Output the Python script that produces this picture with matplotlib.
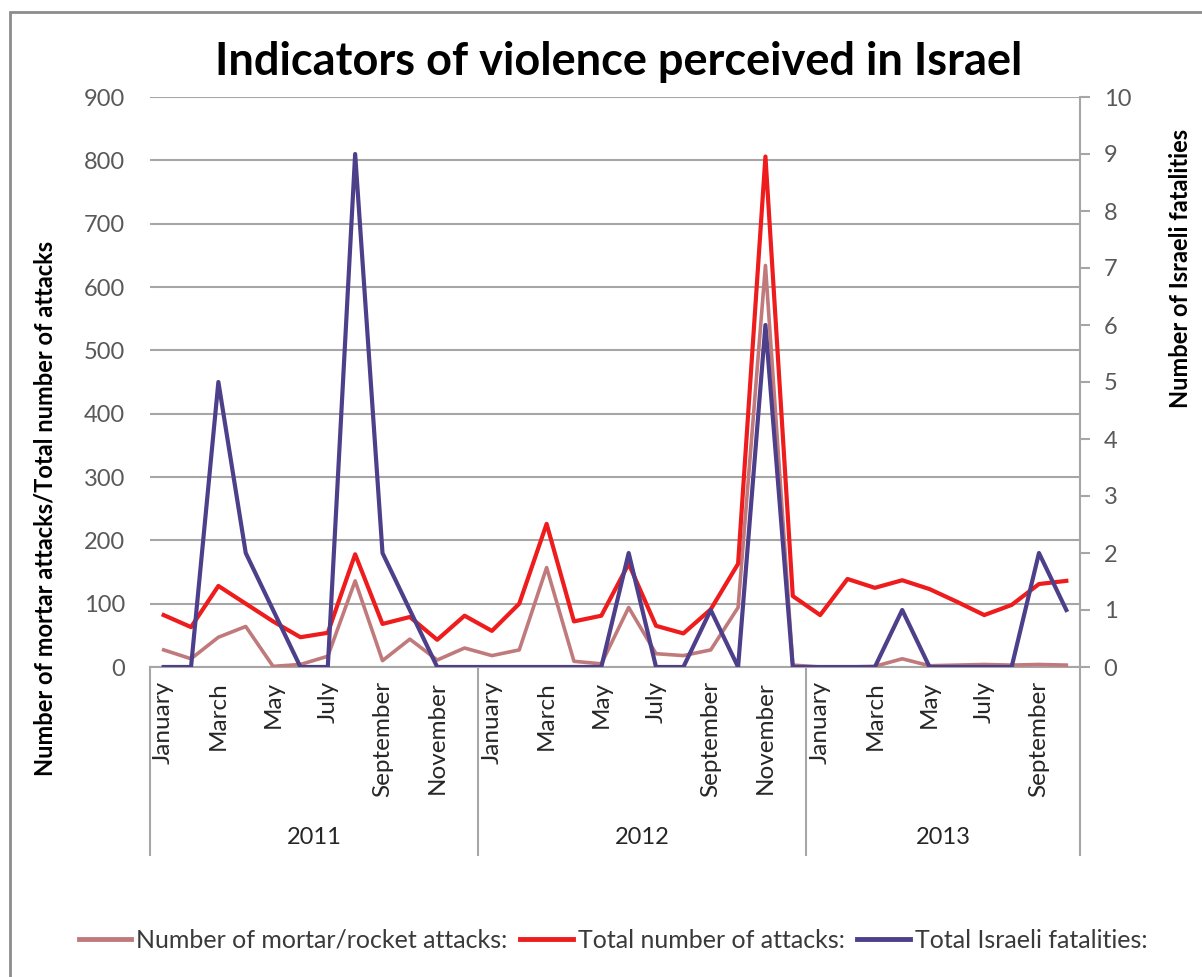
import matplotlib
matplotlib.use("Agg")
import matplotlib.pyplot as plt
import numpy as np
from matplotlib.patches import Rectangle
from matplotlib.lines import Line2D

plt.rcParams['font.family'] = ['Lato', 'DejaVu Sans']

month_names = ["January", "February", "March", "April", "May", "June", "July",
               "August", "September", "October", "November", "December"]
years = ["2011", "2012", "2013"]
months_per_year = [12, 12, 10]

mortar = [27, 13, 47, 64, 1, 4, 17, 136, 10, 44, 11, 30,
          18, 27, 157, 9, 5, 94, 21, 18, 27, 94, 634, 3,
          0, 0, 1, 13, 2, 3, 4, 3, 4, 3]
total = [82, 63, 128, 100, 72, 47, 54, 178, 68, 79, 43, 81,
         57, 100, 226, 72, 81, 163, 65, 53, 91, 163, 806, 112,
         82, 139, 125, 137, 123, 103, 82, 98, 131, 136]
fatalities = [0, 0, 5, 2, 1, 0, 0, 9, 2, 1, 0, 0,
              0, 0, 0, 0, 0, 2, 0, 0, 1, 0, 6, 0,
              0, 0, 0, 1, 0, 0, 0, 0, 2, 1]

title = "Indicators of violence perceived in Israel"
left_label = "Number of mortar attacks/Total number of attacks"
right_label = "Number of Israeli fatalities"
legend_labels = ["Number of mortar/rocket attacks:", "Total number of attacks:",
                 "Total Israeli fatalities:"]

c_mortar = "#C07A7C"
c_total = "#EE1C1C"
c_fat = "#4E3F8A"
c_grid = "#A6A6A6"
c_text = "#595959"

W, H = 1202, 977
fig = plt.figure(figsize=(W / 100, H / 100), dpi=100)

# outer frame
fig.patches.append(Rectangle((10 / W, -0.05), 1.2, 1 - 12 / H + 0.05,
                             transform=fig.transFigure, fill=False,
                             edgecolor="#8C8C8C", linewidth=2))

L, R, T, B = 150, 1080, 97, 667
ax = fig.add_axes([L / W, 1 - B / H, (R - L) / W, (B - T) / H])
ax2 = ax.twinx()

n = len(total)
x = np.arange(n)

ax.set_xlim(-0.5, n - 0.5)
ax.set_ylim(0, 900)
ax.set_yticks(np.arange(0, 901, 100))
ax.yaxis.grid(True, color=c_grid, linewidth=1.5)
ax.set_axisbelow(True)
for s in ["top", "right", "left"]:
    ax.spines[s].set_visible(False)
ax.spines["bottom"].set_color(c_grid)
ax.spines["bottom"].set_linewidth(1.5)
ax.tick_params(axis="y", length=0, labelsize=17, labelcolor=c_text, pad=18)
ax.set_xticks([])

ax2.set_ylim(0, 10)
ax2.set_yticks(np.arange(0, 11, 1))
for s in ["top", "left", "bottom"]:
    ax2.spines[s].set_visible(False)
ax2.spines["right"].set_color(c_grid)
ax2.spines["right"].set_linewidth(1.5)
ax2.tick_params(axis="y", length=7, width=1.5, color=c_grid, labelsize=17,
                labelcolor=c_text, pad=10)

ax.plot(x, mortar, color=c_mortar, linewidth=2.6, zorder=3)
ax.plot(x, total, color=c_total, linewidth=3, zorder=4)
ax2.plot(x, fatalities, color=c_fat, linewidth=3, zorder=5)
ax2.patch.set_visible(False)

# category labels
xt = ax.get_xaxis_transform()
i = 0
for yi, (yr, nm) in enumerate(zip(years, months_per_year)):
    for m in range(nm):
        if m % 2 == 0:
            ax.text(i + m, -0.025, month_names[m], transform=xt, rotation=90,
                    ha="center", va="top", fontsize=17.5, color="#262626")
    ax.text(i + (nm - 1) / 2, -0.30, yr, transform=xt, ha="center", va="center",
            fontsize=17, color="#262626")
    i += nm
bounds = np.cumsum([0] + months_per_year) - 0.5
for b in bounds:
    ax.add_line(Line2D([b, b], [0, -0.33], transform=xt, color=c_grid,
                       linewidth=1.5, clip_on=False))

fig.text(619 / W, 1 - 62 / H, title, ha="center", va="center", fontsize=32.5,
         fontweight="bold", color="black")
fig.text(45 / W, 1 - 508 / H, left_label, rotation=90, ha="center", va="center",
         fontsize=17, fontweight="bold", color="black")
fig.text(1180 / W, 1 - 268 / H, right_label, rotation=90, ha="center",
         va="center", fontsize=17, fontweight="bold", color="black")

handles = [Line2D([], [], color=c_mortar, linewidth=3.5),
           Line2D([], [], color=c_total, linewidth=3.5),
           Line2D([], [], color=c_fat, linewidth=3.5)]
leg = fig.legend(handles, legend_labels, loc="center",
                 bbox_to_anchor=(613 / W, 1 - 940 / H),
                 ncol=3, frameon=False, fontsize=18, handlelength=2.1,
                 handletextpad=0.2, columnspacing=0.5)
for t in leg.get_texts():
    t.set_color("#3A3A3A")

fig.savefig("out.png", dpi=100, facecolor="white")
